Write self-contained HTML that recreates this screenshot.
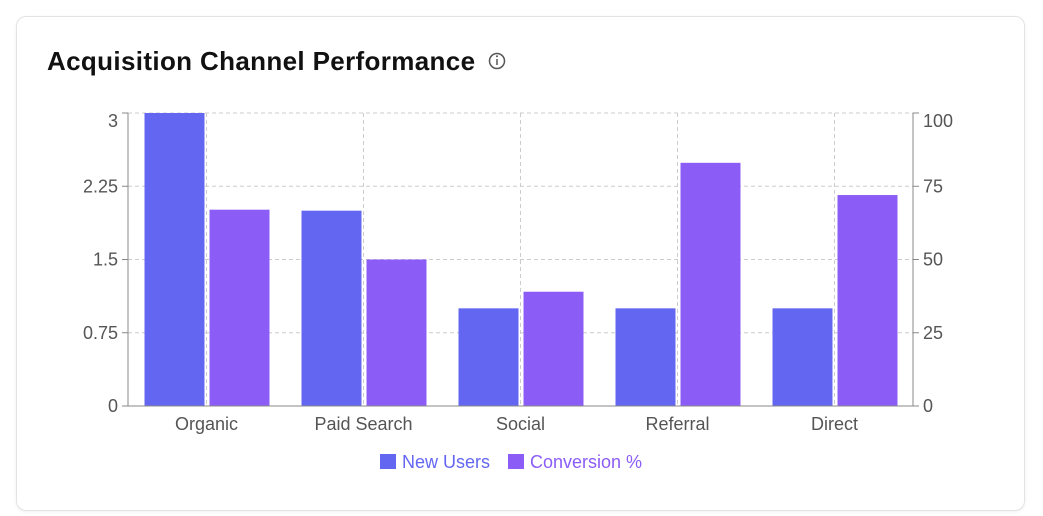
<!DOCTYPE html>
<html><head><meta charset="utf-8"><style>
body{margin:0;width:1043px;height:516px;background:#fff;font-family:"Liberation Sans",sans-serif;overflow:hidden}
.card{position:absolute;left:16px;top:16px;width:1007px;height:493px;border:1px solid #e3e3e3;border-radius:10px;box-shadow:0 1px 3px rgba(0,0,0,0.06)}
.title{position:absolute;left:47px;top:46px;font-size:26px;font-weight:bold;color:#111;letter-spacing:0.35px}
svg{position:absolute;left:0;top:0}
</style></head><body>
<div class="card"></div>
<div class="title">Acquisition Channel Performance</div>
<svg width="1043" height="516" id="chart">
<g><circle cx="497" cy="61" r="7.5" fill="none" stroke="#555" stroke-width="1.5"/><line x1="497" y1="59" x2="497" y2="65" stroke="#555" stroke-width="1.5"/><circle cx="497" cy="56.3" r="1" fill="#555"/></g>
</svg>
<script>
const categories=["Organic","Paid Search","Social","Referral","Direct"];
const newUsers=[3,2,1,1,1];
const conversion=[67,50,39,83,72];
const leftTicks=[0,0.75,1.5,2.25,3];
const leftTickLabels=["0","0.75","1.5","2.25","3"];
const rightTicks=[0,25,50,75,100];
const svg=document.getElementById('chart');
const NS='http://www.w3.org/2000/svg';
const X0=128,X1=913,Y0=406,Y1=113;
const yL=v=>Y0-(v/3)*(Y0-Y1);
const yR=v=>Y0-(v/100)*(Y0-Y1);
const band=(X1-X0)/categories.length;
const xC=i=>X0+band*(i+0.5);
function mk(t,a,p){const e=document.createElementNS(NS,t);for(const k in a)e.setAttribute(k,a[k]);(p||svg).appendChild(e);return e;}
leftTicks.forEach(v=>{const l=mk('line',{x1:X0,x2:X1,y1:yL(v),y2:yL(v),stroke:'#ccc','stroke-dasharray':'4 3'});

});
categories.forEach((c,i)=>{const l=mk('line',{x1:xC(i),x2:xC(i),y1:Y1,y2:Y0,stroke:'#ccc','stroke-dasharray':'4 3'});

});
categories.forEach((c,i)=>{
 const b1=mk('rect',{x:xC(i)-62,y:yL(newUsers[i]),width:60,height:Y0-yL(newUsers[i]),fill:'#6366f1'});
 
 
 const b2=mk('rect',{x:xC(i)+3,y:yR(conversion[i]),width:60,height:Y0-yR(conversion[i]),fill:'#8b5cf6'});
 
 
 const t=mk('text',{x:xC(i),y:Y0+24,'text-anchor':'middle','font-size':18,fill:'#555'});t.textContent=c;
 
 
});
mk('line',{x1:X0,x2:X0,y1:Y1,y2:Y0,stroke:'#888'});
mk('line',{x1:X1,x2:X1,y1:Y1,y2:Y0,stroke:'#888'});
mk('line',{x1:X0,x2:X1,y1:Y0,y2:Y0,stroke:'#888'});
leftTicks.forEach((v,i)=>{mk('line',{x1:X0-6,x2:X0,y1:yL(v),y2:yL(v),stroke:'#888'});
 const t=mk('text',{x:X0-10,y:Math.max(yL(v)+6,127),'text-anchor':'end','font-size':18,fill:'#555'});t.textContent=leftTickLabels[i];
 
 });
rightTicks.forEach(v=>{mk('line',{x1:X1,x2:X1+6,y1:yR(v),y2:yR(v),stroke:'#888'});
 const t=mk('text',{x:X1+10,y:Math.max(yR(v)+6,127),'font-size':18,fill:'#555'});t.textContent=v;
 
 });
const lg=[["New Users","#6366f1",380],["Conversion %","#8b5cf6",508]];
lg.forEach(([n,c,x])=>{const g=mk('g',{});
 
 
 mk('rect',{x:x,y:454,width:16,height:15,fill:c},g);
 const t=mk('text',{x:x+22,y:468,'font-size':18,fill:c},g);t.textContent=n;});
</script>
</body></html>
